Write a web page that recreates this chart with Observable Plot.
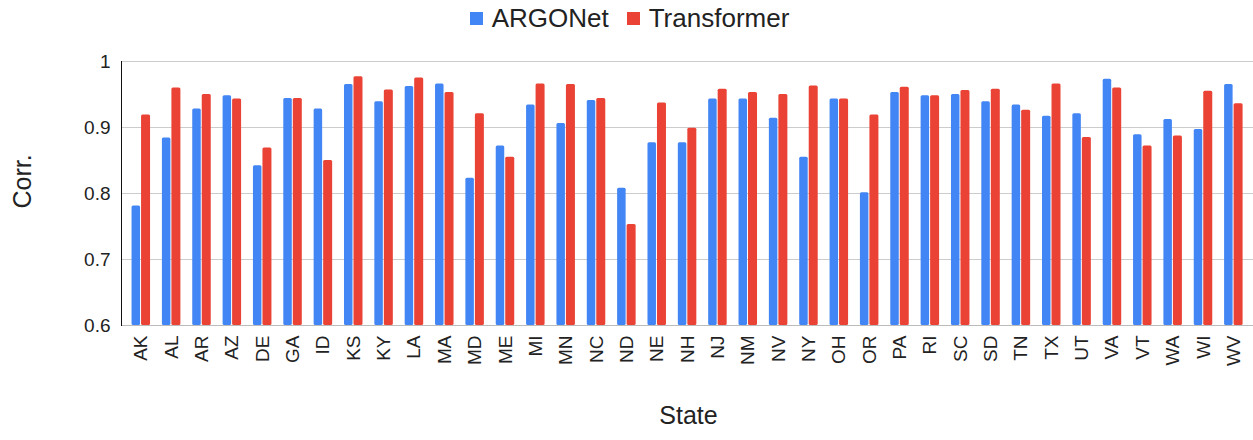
<!DOCTYPE html>
<html>
<head>
<meta charset="utf-8">
<script src="https://cdn.jsdelivr.net/npm/d3@7"></script>
<script src="https://cdn.jsdelivr.net/npm/@observablehq/plot@0.6"></script>
<style>
  html, body { margin: 0; padding: 0; background: #fff; }
  body { width: 1253px; height: 440px; overflow: hidden; font-family: Arial, "Liberation Sans", sans-serif; }
  #legend { height: 36px; display: flex; justify-content: center; align-items: center; gap: 0; font-size: 26px; color: #222; padding-left: 6px; box-sizing: border-box; }
  .item { display: flex; align-items: center; margin: 0 9px; }
  .sw { width: 13px; height: 13px; margin-right: 9px; display: inline-block; }
</style>
</head>
<body>
<div id="legend"></div>
<div id="chart"></div>
<script>
const states = ["AK","AL","AR","AZ","DE","GA","ID","KS","KY","LA","MA","MD","ME","MI","MN","NC","ND","NE","NH","NJ","NM","NV","NY","OH","OR","PA","RI","SC","SD","TN","TX","UT","VA","VT","WA","WI","WV"];
const argonet = [0.781,0.884,0.928,0.948,0.842,0.944,0.928,0.965,0.939,0.962,0.966,0.823,0.872,0.934,0.906,0.941,0.808,0.877,0.877,0.943,0.943,0.914,0.855,0.943,0.801,0.953,0.948,0.950,0.939,0.934,0.917,0.921,0.973,0.889,0.912,0.897,0.965];
const transformer = [0.919,0.960,0.950,0.943,0.869,0.944,0.850,0.977,0.957,0.975,0.953,0.921,0.855,0.966,0.965,0.944,0.753,0.937,0.899,0.958,0.953,0.950,0.963,0.943,0.919,0.961,0.948,0.956,0.958,0.926,0.966,0.885,0.960,0.872,0.887,0.955,0.936];
const seriesNames = ["ARGONet", "Transformer"];
const seriesColors = ["#4285F4", "#EA4335"];
const yTicks = [0.6, 0.7, 0.8, 0.9, 1];

const rowsA = states.map((s, i) => ({state: s, value: argonet[i]}));
const rowsT = states.map((s, i) => ({state: s, value: transformer[i]}));

// legend
const legend = document.getElementById("legend");
seriesNames.forEach((n, i) => {
  const it = document.createElement("span");
  it.className = "item";
  const sw = document.createElement("span");
  sw.className = "sw";
  sw.style.background = seriesColors[i];
  it.appendChild(sw);
  it.appendChild(document.createTextNode(n));
  legend.appendChild(it);
});

const chart = Plot.plot({
  width: 1253,
  height: 404,
  marginTop: 25,
  marginBottom: 115,
  marginLeft: 121,
  marginRight: 0,
  style: {fontFamily: "Arial, 'Liberation Sans', sans-serif", color: "#222", background: "#fff"},
  x: {type: "band", domain: states, paddingInner: 0, paddingOuter: 0.15, round: false, label: null},
  y: {domain: [0.6, 1], label: null},
  marks: [
    Plot.gridY(yTicks, {stroke: "#cccccc", strokeOpacity: 1}),
    Plot.barY(rowsA, {x: "state", y1: 0.6, y2: "value", fill: seriesColors[0], insetLeft: 6, insetRight: 15.85, rx: 1.5}),
    Plot.barY(rowsT, {x: "state", y1: 0.6, y2: "value", fill: seriesColors[1], insetLeft: 15.5, insetRight: 5.85, rx: 1.5}),
    Plot.ruleY([0.6], {stroke: "#bbbbbb"}),
    Plot.frame({anchor: "left", stroke: "#111"}),
    Plot.axisY(yTicks, {tickSize: 0, tickPadding: 11, fontSize: 19, tickFormat: d => d === 1 ? "1" : d.toFixed(1), label: null}),
    Plot.axisX({tickRotate: -90, tickSize: 0, tickPadding: 10, fontSize: 19, label: null}),
    Plot.text(["Corr."], {frameAnchor: "left", rotate: -90, dx: -98.5, dy: 15, fontSize: 25, fill: "#222"}),
    Plot.text(["State"], {frameAnchor: "bottom", dx: 1, dy: 98, fontSize: 25, fill: "#222"})
  ]
});
document.getElementById("chart").appendChild(chart);
</script>
</body>
</html>
